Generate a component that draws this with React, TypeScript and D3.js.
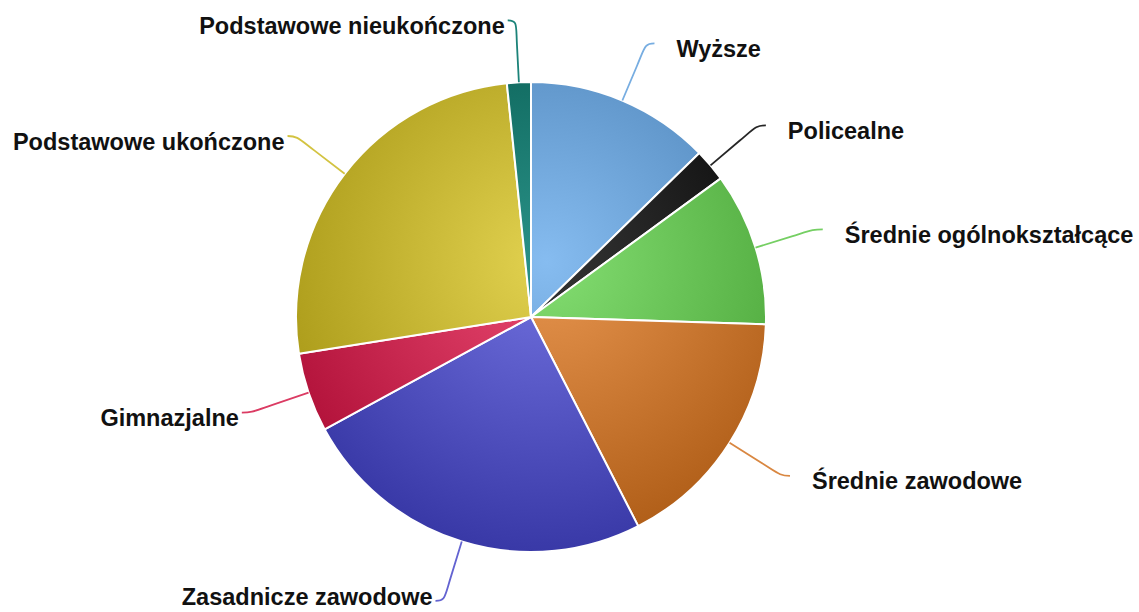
import React from 'react';
import * as d3 from 'd3';

const categories = [
  'Wyższe',
  'Policealne',
  'Średnie ogólnokształcące',
  'Średnie zawodowe',
  'Zasadnicze zawodowe',
  'Gimnazjalne',
  'Podstawowe ukończone',
  'Podstawowe nieukończone',
];
const values = [12.71, 2.25, 10.54, 16.96, 24.6, 5.44, 25.86, 1.64];
const colors = ['#86bcf0', '#353535', '#84de72', '#e89650', '#7272e0', '#ea4a72', '#e2d250', '#2a9288'];

const W = 1139;
const H = 612;
const cx = 531;
const cy = 317;
const R = 235;

function darken(c: string, amt: number) {
  const r = d3.rgb(c);
  return d3.rgb(Math.max(0, r.r - amt), Math.max(0, r.g - amt), Math.max(0, r.b - amt)).formatHex();
}

export default function App() {
  const pie = d3.pie<number>().sort(null).value((d) => d).startAngle(0).endAngle(2 * Math.PI);
  const arcs = pie(values);
  const arcGen = d3.arc<d3.PieArcDatum<number>>().innerRadius(0).outerRadius(R);

  const pt = (a: number, r: number): [number, number] => [Math.sin(a) * r, -Math.cos(a) * r];

  return (
    <div style={{ position: 'absolute', left: 0, top: 0 }}>
      <svg width={W} height={H} style={{ display: 'block', background: '#fff' }}>
        <defs>
          {colors.map((c, i) => (
            <radialGradient key={i} id={`g${i}`} gradientUnits="userSpaceOnUse" cx={15} cy={-55} r={335}>
              <stop offset="0" stopColor={c} />
              <stop offset="1" stopColor={darken(c, 66)} />
            </radialGradient>
          ))}
        </defs>
        <g transform={`translate(${cx},${cy})`}>
          {arcs.map((a, i) => (
            <path key={i} d={arcGen(a) || ''} fill={`url(#g${i})`} stroke="#fff" strokeWidth={2} strokeLinejoin="round" />
          ))}
          {arcs.map((a, i) => {
            const mid = (a.startAngle + a.endAngle) / 2;
            const sign = Math.sin(mid) >= 0 ? 1 : -1;
            const e = pt(mid, R);
            const b = pt(mid, R + 38);
            const c1 = pt(mid, R + 58);
            const end = pt(mid, R + 62);
            const endX = end[0] + sign * 8;
            const c2: [number, number] = [endX - sign * 10, end[1]];
            const d = `M${e[0]},${e[1]}L${b[0]},${b[1]}C${c1[0]},${c1[1]} ${c2[0]},${c2[1]} ${endX},${end[1]}`;
            const tx = sign > 0 ? end[0] + 30 : end[0] - 11;
            const ty = Math.min(end[1] + 13.5, H - cy - 7);
            return (
              <g key={`l${i}`}>
                <path d={d} fill="none" stroke={darken(colors[i], 15)} strokeWidth={1.8} />
                <text
                  x={tx}
                  y={ty}
                  textAnchor={sign > 0 ? 'start' : 'end'}
                  fontFamily="'Liberation Sans', Arial, sans-serif"
                  fontWeight="bold"
                  fontSize={23.5}
                  fill="#111"
                >
                  {categories[i]}
                </text>
              </g>
            );
          })}
        </g>
      </svg>
    </div>
  );
}
